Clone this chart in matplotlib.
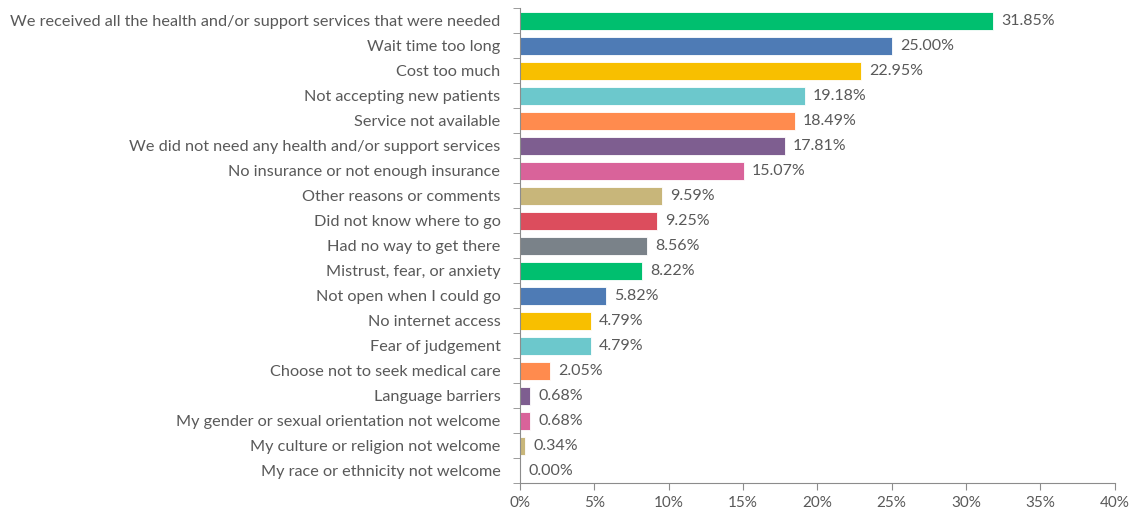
import matplotlib.pyplot as plt
import numpy as np
from matplotlib.ticker import FuncFormatter, FixedLocator

reasons = [
    "We received all the health and/or support services that were needed",
    "Wait time too long",
    "Cost too much",
    "Not accepting new patients",
    "Service not available",
    "We did not need any health and/or support services",
    "No insurance or not enough insurance",
    "Other reasons or comments",
    "Did not know where to go",
    "Had no way to get there",
    "Mistrust, fear, or anxiety",
    "Not open when I could go",
    "No internet access",
    "Fear of judgement",
    "Choose not to seek medical care",
    "Language barriers",
    "My gender or sexual orientation not welcome",
    "My culture or religion not welcome",
    "My race or ethnicity not welcome",
]
percents = [31.85, 25.00, 22.95, 19.18, 18.49, 17.81, 15.07, 9.59, 9.25, 8.56,
            8.22, 5.82, 4.79, 4.79, 2.05, 0.68, 0.68, 0.34, 0.00]

palette = ["#00BF6F", "#4E7BB5", "#F8BF00", "#6CC8CC", "#FF8B4E",
           "#7E5E90", "#D9639A", "#C8B67A", "#DC4D5D", "#7A8289"]
colors = [palette[i % len(palette)] for i in range(len(reasons))]

text_col = "#595959"
axis_col = "#8C8C8C"
plt.rcParams['font.family'] = ['Lato', 'DejaVu Sans']

fig = plt.figure(figsize=(11.35, 5.12), dpi=100)
ax = fig.add_axes([0.458, 0.0566, 0.524, 0.9274])

y = np.arange(len(reasons))
ax.barh(y, percents, height=0.72, color=colors, edgecolor="white", linewidth=0.6)
ax.set_ylim(len(reasons) - 0.5, -0.5)
ax.set_xlim(0, 40)

for yi, v in zip(y, percents):
    ax.text(v + 0.55, yi, f"{v:.2f}%", va="center", ha="left", fontsize=11.5, color=text_col)

ax.set_yticks(y)
ax.set_yticklabels(reasons, fontsize=11.7, color=text_col)
ax.tick_params(axis="y", which="major", length=0, pad=14)
ax.yaxis.set_minor_locator(FixedLocator(np.arange(-0.5, len(reasons), 1)))
ax.tick_params(axis="y", which="minor", length=5, color=axis_col, direction="out")

ax.set_xticks(np.arange(0, 41, 5))
ax.xaxis.set_major_formatter(FuncFormatter(lambda v, p: f"{v:.0f}%"))
ax.tick_params(axis="x", length=5, color=axis_col, labelcolor=text_col, labelsize=11, pad=4)

for side in ["top", "right"]:
    ax.spines[side].set_visible(False)
for side in ["left", "bottom"]:
    ax.spines[side].set_color(axis_col)
    ax.spines[side].set_linewidth(0.8)

fig.savefig("out.png", dpi=100)
